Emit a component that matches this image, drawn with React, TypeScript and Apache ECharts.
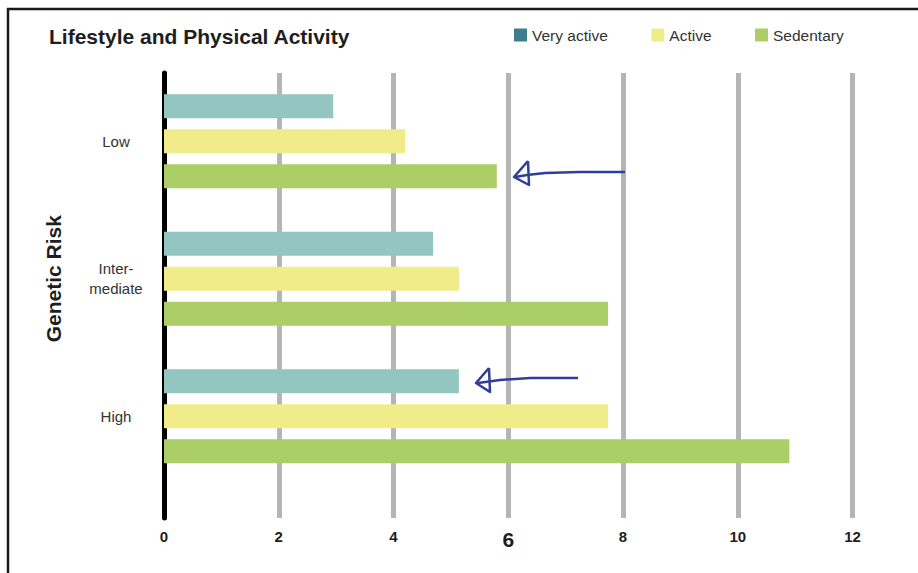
import React, { useEffect, useRef } from "react";
import * as echarts from "echarts";

const categories = ["Low", "Inter-\nmediate", "High"];
const seriesNames = ["Very active", "Active", "Sedentary"];
const veryActive = [2.95, 4.69, 5.14];
const active = [4.2, 5.14, 7.74];
const sedentary = [5.8, 7.74, 10.9];
const xTicks = { min: 0, max: 12, interval: 2 };

const barColors = ["#93c6c1", "#f1ec8a", "#abce66"];
const legendColors = ["#3f7d8c", "#f1ec8a", "#abce66"];
const FONT = "'Liberation Sans', Arial, sans-serif";

export default function App() {
  const ref = useRef<HTMLDivElement>(null);
  useEffect(() => {
    if (!ref.current) return;
    const chart = echarts.init(ref.current, undefined, { renderer: "svg" });
    const values = [veryActive, active, sedentary];
    const arrowColor = "#2f3f98";
    chart.setOption({
      animation: false,
      backgroundColor: "#ffffff",
      textStyle: { fontFamily: FONT },
      title: {
        text: "Lifestyle and Physical Activity",
        left: 44,
        top: 21,
        textStyle: { fontFamily: FONT, fontSize: 21, fontWeight: "bold", color: "#1e1e1e" },
      },
      legend: {
        left: 509,
        top: 22,
        itemWidth: 13,
        itemHeight: 13,
        itemGap: 43.5,
        icon: "rect",
        textStyle: { fontFamily: FONT, fontSize: 15.5, color: "#333" },
        data: seriesNames.map((n, i) => ({ name: n, itemStyle: { color: legendColors[i] } })),
      },
      grid: [
        { left: 164, right: 65.5, top: 72.5, bottom: 88 },
        { left: 164, right: 65.5, top: 73, bottom: 55 },
      ],
      xAxis: [
        { type: "value", gridIndex: 0, ...xTicks, show: false, splitLine: { show: false } },
        {
          type: "value",
          gridIndex: 1,
          ...xTicks,
          axisLine: { show: false },
          axisTick: { show: false },
          splitLine: { show: true, lineStyle: { color: "#b5b5b5", width: 5 } },
          axisLabel: {
            margin: 11,
            verticalAlign: "top",
            formatter: (v: number) => (v === 6 ? "{big|6}" : "{n|" + v + "}"),
            rich: {
              n: { fontFamily: FONT, fontSize: 15, fontWeight: "bold", color: "#1e1e1e" },
              big: { fontFamily: FONT, fontSize: 21, fontWeight: "bold", color: "#1e1e1e" },
            },
          },
        },
      ],
      yAxis: [
        {
          type: "category",
          gridIndex: 0,
          data: categories,
          inverse: true,
          axisLine: { show: false },
          axisTick: { show: false },
          axisLabel: {
            margin: 48,
            align: "center",
            fontFamily: FONT,
            fontSize: 15,
            lineHeight: 20,
            color: "#333",
          },
          name: "Genetic Risk",
          nameLocation: "middle",
          nameGap: 100,
          nameRotate: 90,
          nameTextStyle: { fontFamily: FONT, fontSize: 21, fontWeight: "bold", color: "#1e1e1e" },
        },
        {
          type: "value",
          gridIndex: 1,
          axisLine: { show: true, lineStyle: { color: "#000", width: 5 } },
          axisTick: { show: false },
          axisLabel: { show: false },
          splitLine: { show: false },
        },
      ],
      series: seriesNames.map((n, i) => ({
        name: n,
        type: "bar",
        xAxisIndex: 0,
        yAxisIndex: 0,
        data: values[i],
        barWidth: 24,
        barGap: "46%",
        itemStyle: { color: barColors[i] },
        z: 3,
      })),
      graphic: [
        { type: "line", shape: { x1: 7, y1: 9, x2: 918, y2: 9 }, style: { stroke: "#1a1a1a", lineWidth: 2.5 } },
        { type: "line", shape: { x1: 8, y1: 8, x2: 8, y2: 573 }, style: { stroke: "#1a1a1a", lineWidth: 2.5 } },
        {
          type: "polyline",
          shape: { points: [[625, 172], [580, 172], [545, 173], [527, 175], [515, 177]] },
          style: { stroke: arrowColor, lineWidth: 2.5, fill: null },
          z: 10,
        },
        {
          type: "polyline",
          shape: { points: [[528, 161], [514, 177], [529, 185], [528, 161]] },
          style: { stroke: arrowColor, lineWidth: 2.5, fill: null, lineJoin: "round" },
          z: 10,
        },
        {
          type: "polyline",
          shape: { points: [[578, 378], [530, 378], [500, 380], [478, 383]] },
          style: { stroke: arrowColor, lineWidth: 2.5, fill: null },
          z: 10,
        },
        {
          type: "polyline",
          shape: { points: [[489, 368], [476, 383], [490, 392], [489, 368]] },
          style: { stroke: arrowColor, lineWidth: 2.5, fill: null, lineJoin: "round" },
          z: 10,
        },
      ],
    });
    return () => chart.dispose();
  }, []);
  return (
    <div
      ref={ref}
      style={{ position: "fixed", left: 0, top: 0, width: 918, height: 573, background: "#fff" }}
    />
  );
}
